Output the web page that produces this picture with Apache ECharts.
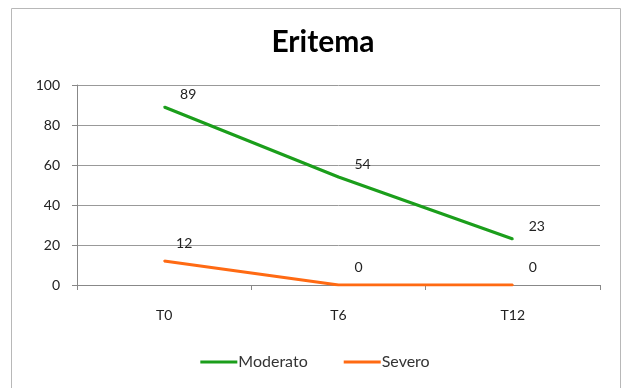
<!DOCTYPE html>
<html><head><meta charset="utf-8">
<script src="https://cdn.jsdelivr.net/npm/echarts@6/dist/echarts.min.js"></script>
<style>html,body{margin:0;padding:0;background:#fff}#c{width:630px;height:388px}</style>
</head><body><div id="c"></div>
<script>
const categories = ['T0', 'T6', 'T12'];
const moderato = [89, 54, 23];
const severo = [12, 0, 0];
const yTicks = [0, 20, 40, 60, 80, 100];

const font = 'Lato, "Open Sans", sans-serif';
const chart = echarts.init(document.getElementById('c'), null, {renderer: 'canvas'});
const lbl = (pos) => ({show: true, position: pos, align: 'center', verticalAlign: 'middle',
  color: '#222', fontSize: 14, fontFamily: font});
chart.setOption({
  animation: false,
  graphic: [{type: 'rect', shape: {x: 11.5, y: 8.5, width: 609, height: 400}, style: {fill: 'none', stroke: '#b8b8b8', lineWidth: 1}, z: -1}],
  title: {text: 'Eritema', left: 318, top: 22, textAlign: 'center',
    textStyle: {fontFamily: font, fontWeight: 'bold', fontSize: 30, color: '#000'}},
  grid: {left: 77, right: 30, top: 85, bottom: 103},
  legend: {bottom: 13, left: 'center', itemWidth: 37, itemHeight: 3, itemGap: 36,
    icon: 'rect', textStyle: {fontFamily: font, fontSize: 16, color: '#333', padding: [0, 0, 0, -4]},
    data: ['Moderato', 'Severo']},
  xAxis: {type: 'category', data: categories, boundaryGap: true,
    axisLine: {lineStyle: {color: '#888'}},
    axisTick: {show: true, length: 5, lineStyle: {color: '#888'}},
    axisLabel: {fontFamily: font, fontSize: 14, color: '#222', margin: 23}},
  yAxis: {type: 'value', min: 0, max: 100, interval: 20,
    axisLine: {show: true, lineStyle: {color: '#888'}},
    axisTick: {show: true, length: 5, lineStyle: {color: '#888'}},
    splitLine: {lineStyle: {color: '#999'}},
    axisLabel: {fontFamily: font, fontSize: 14, color: '#222', margin: 17,
      formatter: v => yTicks.includes(v) ? String(v) : ''}},
  series: [
    {name: 'Moderato', type: 'line', data: moderato, symbol: 'circle', symbolSize: 2, showSymbol: true,
      color: '#1b9e1b', lineStyle: {width: 3}, label: lbl([25, -12]), labelLayout: {hideOverlap: false}},
    {name: 'Severo', type: 'line', data: severo, symbol: 'circle', symbolSize: 2, showSymbol: true,
      color: '#ff6a13', lineStyle: {width: 3}, label: lbl([21, -17]), labelLayout: {hideOverlap: false}}
  ]
});
</script></body></html>
